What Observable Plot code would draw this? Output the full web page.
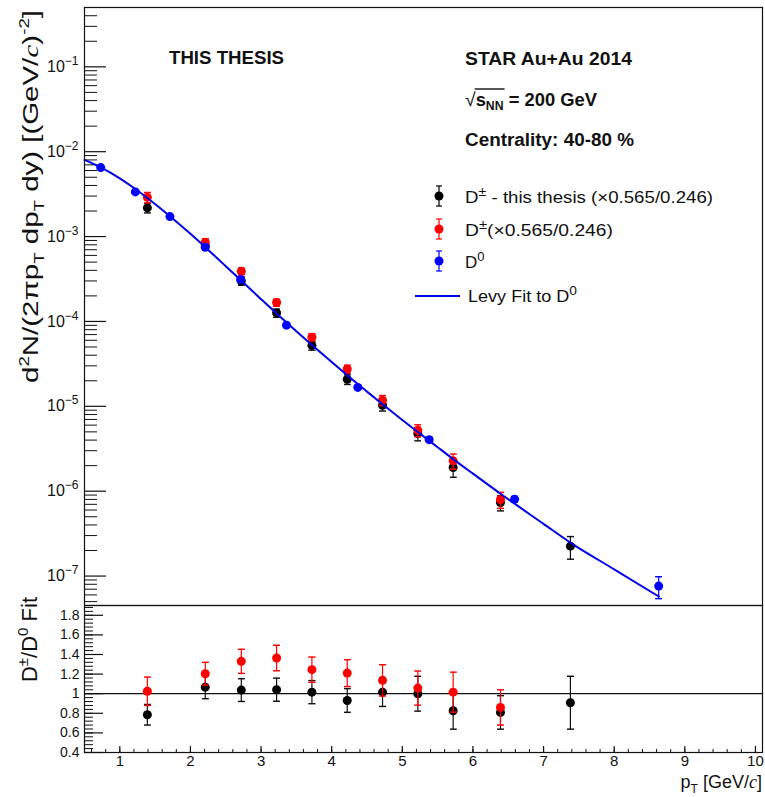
<!DOCTYPE html>
<html><head><meta charset="utf-8">
<script src="https://cdn.jsdelivr.net/npm/d3@7"></script>
<script src="https://cdn.jsdelivr.net/npm/@observablehq/plot@0.6"></script>
<style>
body{margin:0;background:#fff;}
#wrap{position:relative;width:765px;height:797px;font-family:"Liberation Sans",Arial,sans-serif;overflow:hidden;background:#fff;}
#wrap svg{position:absolute;left:0;}
</style></head><body><div id="wrap"></div>
<script>
// ---------------- data ----------------
// D± this thesis (black), spectrum
const ptBlack  = [1.39, 2.21, 2.72, 3.22, 3.72, 4.22, 4.72, 5.22, 5.72, 6.39, 7.38];
const yBlack   = [2.18e-3, 7.8e-4, 3.0e-4, 1.26e-4, 5.22e-5, 2.08e-5, 1.03e-5, 4.77e-6, 1.90e-6, 7.36e-7, 2.25e-7];
const eBlack   = [0.28e-3, 0.86e-4, 0.33e-4, 0.14e-4, 0.63e-5, 0.27e-5, 0.15e-5, 0.85e-6, 0.44e-6, 1.5e-7, 0.67e-7];
// D± published (red), spectrum
const ptRed    = [1.39, 2.21, 2.72, 3.22, 3.72, 4.22, 4.72, 5.22, 5.72, 6.39];
const yRed     = [2.90e-3, 8.57e-4, 3.91e-4, 1.67e-4, 6.53e-5, 2.75e-5, 1.18e-5, 5.22e-6, 2.28e-6, 7.98e-7];
const eRed     = [0.41e-3, 0.86e-4, 0.36e-4, 0.16e-4, 0.65e-5, 0.30e-5, 0.16e-5, 0.84e-6, 0.46e-6, 1.7e-7];
// D0 (blue), spectrum
const ptBlue   = [0.73, 1.22, 1.71, 2.21, 2.71, 3.36, 4.37, 5.38, 6.59, 8.63];
const yBlue    = [6.5e-3, 3.36e-3, 1.72e-3, 7.48e-4, 3.12e-4, 9.04e-5, 1.67e-5, 4.05e-6, 8.05e-7, 7.62e-8];
const eBlue    = [0.25e-3, 0.12e-3, 0.06e-3, 0.3e-4, 0.13e-4, 0.4e-5, 0.8e-6, 0.25e-6, 0.6e-7, 2.2e-8];
// Levy fit to D0
const ptFit    = [0.5, 0.73, 1.0, 1.22, 1.39, 1.71, 2.0, 2.21, 2.5, 2.72, 3.0, 3.22, 3.5, 3.72, 4.0, 4.22, 4.5, 4.72, 5.0, 5.22, 5.5, 5.72, 6.0, 6.39, 7.0, 7.38, 8.0, 8.63];
const yFit     = [8.0e-3, 6.54e-3, 4.86e-3, 3.64e-3, 2.85e-3, 1.74e-3, 1.077e-3, 7.49e-4, 4.48e-4, 3.02e-4, 1.83e-4, 1.24e-4, 7.66e-5, 5.28e-5, 3.32e-5, 2.32e-5, 1.49e-5, 1.057e-5, 6.90e-6, 4.98e-6, 3.30e-6, 2.39e-6, 1.61e-6, 9.33e-7, 4.12e-7, 2.48e-7, 1.2e-7, 5.75e-8];
// Ratio to D0 fit (bottom panel)
const rBlack   = [0.785, 1.067, 1.037, 1.041, 1.016, 0.931, 1.016, 1.0, 0.826, 0.809, 0.908];
const reBlack  = [0.105, 0.118, 0.116, 0.118, 0.118, 0.121, 0.146, 0.178, 0.188, 0.171, 0.27];
const rRed     = [1.025, 1.204, 1.33, 1.364, 1.245, 1.21, 1.136, 1.057, 1.016, 0.86];
const reRed    = [0.145, 0.116, 0.123, 0.13, 0.129, 0.137, 0.16, 0.174, 0.204, 0.18];
// tick values
const yMajorTop = [1e-7, 1e-6, 1e-5, 1e-4, 1e-3, 1e-2, 1e-1];
const yMinorTop = [];
for (let e = -8; e <= -1; e++) for (let k = 2; k <= 9; k++) { const v = k * Math.pow(10, e); if (v >= 4.5e-8 && v <= 0.5) yMinorTop.push(v); }
const rMajor = [0.4, 0.6, 0.8, 1.0, 1.2, 1.4, 1.6, 1.8];
const rMinor = d3.range(0, 38).map(i => +(0.4 + i * 0.04).toFixed(2));
const xMajor = [1, 2, 3, 4, 5, 6, 7, 8, 9, 10];
const xMinor = d3.range(0, 48).map(i => +(0.6 + i * 0.2).toFixed(1));

// ---------------- tables ----------------
const mk = (xs, ys, es) => xs.map((x, i) => ({x, y: ys[i], lo: ys[i] - es[i], hi: ys[i] + es[i]}));
const blackTop = mk(ptBlack, yBlack, eBlack);
const redTop   = mk(ptRed, yRed, eRed);
const blueTop  = mk(ptBlue, yBlue, eBlue);
const fit      = ptFit.map((x, i) => ({x, y: yFit[i]}));
const blackR   = mk(ptBlack, rBlack, reBlack);
const redR     = mk(ptRed, rRed, reRed);

const W = 765, ML = 84, MR = 3, FW = W - ML - MR;
const INK = "#111";
const BLUE = "#0000ff", RED = "#ff0000", LINEBLUE = "#0000e6";
const font = "Liberation Sans, Arial, sans-serif";

const errs = (data, color) => Plot.link(data, {x1: "x", x2: "x", y1: "lo", y2: "hi", stroke: color, strokeWidth: 1.2, markerStart: "tick", markerEnd: "tick"});

// ---------------- top panel ----------------
const topH = 607;
const topPlot = Plot.plot({
  width: W, height: topH, marginLeft: ML, marginRight: MR, marginTop: 7, marginBottom: 2,
  x: {domain: [0.5, 10.1], axis: null},
  y: {type: "log", domain: [4.5e-8, 0.5], axis: null},
  style: {fontFamily: font, background: "transparent", color: INK},
  marks: [
    Plot.ruleY(yMinorTop, {stroke: INK, strokeWidth: 1, insetRight: FW - 13}),
    Plot.ruleY(yMajorTop, {stroke: INK, strokeWidth: 1.2, insetRight: FW - 22}),
    Plot.axisY(yMajorTop, {tickSize: 0, tickPadding: 6, fontSize: 16, label: null, tickFormat: d => "10^" + Math.round(Math.log10(d))}),
    errs(blackTop, INK),
    Plot.dot(blackTop, {x: "x", y: "y", r: 4.5, fill: "black"}),
    errs(redTop, RED),
    Plot.dot(redTop, {x: "x", y: "y", r: 4.5, fill: RED}),
    Plot.line(fit, {x: "x", y: "y", stroke: LINEBLUE, strokeWidth: 2, curve: "monotone-x"}),
    errs(blueTop, BLUE),
    Plot.dot(blueTop, {x: "x", y: "y", r: 4.5, fill: BLUE}),
    Plot.frame({stroke: INK, strokeWidth: 1.2})
  ]
});
topPlot.style.top = "0px";

// ---------------- bottom panel ----------------
const botH = 194, botFH = 147;
const botPlot = Plot.plot({
  width: W, height: botH, marginLeft: ML, marginRight: MR, marginTop: 2, marginBottom: botH - 2 - botFH,
  x: {domain: [0.5, 10.1], axis: null},
  y: {domain: [0.4, 1.9], axis: null},
  style: {fontFamily: font, background: "transparent", color: INK},
  marks: [
    Plot.ruleY(rMinor, {stroke: INK, strokeWidth: 1, insetRight: FW - 9}),
    Plot.ruleY(rMajor, {stroke: INK, strokeWidth: 1.2, insetRight: FW - 19}),
    Plot.ruleX(xMinor, {stroke: INK, strokeWidth: 1, insetTop: botFH - 3}),
    Plot.ruleX(xMajor, {stroke: INK, strokeWidth: 1.2, insetTop: botFH - 6}),
    Plot.axisY(rMajor, {tickSize: 0, tickPadding: 5, fontSize: 14, label: null, tickFormat: d => String(+d.toFixed(1))}),
    Plot.axisX(xMajor, {tickSize: 0, tickPadding: 3, fontSize: 15, label: null}),
    Plot.ruleY([1], {stroke: INK, strokeWidth: 1.2}),
    errs(blackR, INK),
    Plot.dot(blackR, {x: "x", y: "y", r: 4.5, fill: "black"}),
    errs(redR, RED),
    Plot.dot(redR, {x: "x", y: "y", r: 4.5, fill: RED}),
    Plot.frame({stroke: INK, strokeWidth: 1.2})
  ]
});
botPlot.style.top = (605 - 2) + "px";

const wrap = document.getElementById("wrap");
wrap.appendChild(topPlot);
wrap.appendChild(botPlot);

// superscript exponents on log tick labels
d3.select(topPlot).selectAll('g[aria-label="y-axis tick label"] text').each(function () {
  const t = d3.select(this);
  const s = t.text();
  if (!s.includes("^")) return;
  const e = s.split("^")[1].replace("-", "\u2212");
  t.text(null);
  t.append("tspan").text("10");
  t.append("tspan").attr("dy", -7).attr("font-size", 12).text(e);
});

// ---------------- overlay text (titles, labels, legend) ----------------
const ov = d3.select(wrap).append("svg")
  .attr("width", W).attr("height", 797)
  .style("top", "0px").style("pointer-events", "none")
  .attr("font-family", font).attr("fill", INK);

function rich(sel, parts) {
  let shift = 0;
  parts.forEach(p => {
    const ts = sel.append("tspan").text(p.t);
    const target = p.sup ? -p.sup : (p.sub ? p.sub : 0);
    if (target !== shift) { ts.attr("dy", target - shift); shift = target; }
    if (p.size) ts.attr("font-size", p.size);
    if (p.italic) ts.attr("font-style", "italic").attr("font-family", "Liberation Serif, serif");
    if (p.weight) ts.attr("font-weight", p.weight);
  });
  return sel;
}
const fitLen = (sel, len) => sel.attr("textLength", len).attr("lengthAdjust", "spacingAndGlyphs");

// annotations
fitLen(ov.append("text").attr("x", 169).attr("y", 64).attr("font-size", 18).attr("font-weight", "bold").text("THIS THESIS"), 115);
fitLen(ov.append("text").attr("x", 465).attr("y", 65).attr("font-size", 18).attr("font-weight", "bold").text("STAR Au+Au 2014"), 167);
const sq = ov.append("text").attr("x", 465).attr("y", 106).attr("font-size", 18).attr("font-weight", "bold");
sq.append("tspan").attr("font-weight", "normal").attr("font-size", 19).text("\u221A");
sq.append("tspan").text("s");
sq.append("tspan").attr("dy", 4).attr("font-size", 12).text("NN");
sq.append("tspan").attr("dy", -4).text(" = 200 GeV");
fitLen(sq, 132);
fitLen(ov.append("text").attr("x", 465).attr("y", 146).attr("font-size", 18).attr("font-weight", "bold").text("Centrality: 40-80 %"), 169);
// overline of the square root
{
  const n = sq.node();
  const x0 = n.getStartPositionOfChar(1).x;
  const x1 = n.getEndPositionOfChar(3).x;
  ov.append("line").attr("x1", x0 - 1).attr("x2", x1 + 1).attr("y1", 89).attr("y2", 89).attr("stroke", INK).attr("stroke-width", 1.4);
}

// y label (top panel)
fitLen(rich(ov.append("text").attr("font-size", 22).attr("text-anchor", "end")
  .attr("transform", "translate(38,10) rotate(-90)"),
  [{t: "d"}, {t: "2", sup: 9, size: 14}, {t: "N/(2\u03C0p"}, {t: "T", sub: 6, size: 14}, {t: " dp"}, {t: "T", sub: 6, size: 14},
   {t: " dy) [(GeV/"}, {t: "c", italic: true}, {t: ")"}, {t: "-2", sup: 9, size: 14}, {t: "]"}]), 373);

// y label (bottom panel)
rich(ov.append("text").attr("font-size", 22).attr("text-anchor", "end")
  .attr("transform", "translate(37,597) rotate(-90)"),
  [{t: "D"}, {t: "\u00B1", sup: 9, size: 15}, {t: "/D"}, {t: "0", sup: 9, size: 15}, {t: " Fit"}]);

// x label
rich(ov.append("text").attr("font-size", 18).attr("text-anchor", "end").attr("x", 762).attr("y", 788),
  [{t: "p"}, {t: "T", sub: 5, size: 12}, {t: " [GeV/"}, {t: "c", italic: true}, {t: "]"}]);

// legend
const lg = ov.append("g");
const legRows = [
  {y: 196, color: "#000", len: 248, parts: [{t: "D"}, {t: "\u00B1", sup: 7, size: 13}, {t: " - this thesis (\u00D70.565/0.246)"}]},
  {y: 229, color: RED, len: 148, parts: [{t: "D"}, {t: "\u00B1", sup: 7, size: 13}, {t: "(\u00D70.565/0.246)"}]},
  {y: 261, color: BLUE, len: null, parts: [{t: "D"}, {t: "0", sup: 7, size: 13}]}
];
legRows.forEach(r => {
  lg.append("line").attr("x1", 439).attr("x2", 439).attr("y1", r.y - 10).attr("y2", r.y + 10).attr("stroke", r.color).attr("stroke-width", 1.2);
  lg.append("line").attr("x1", 436).attr("x2", 442).attr("y1", r.y - 10).attr("y2", r.y - 10).attr("stroke", r.color).attr("stroke-width", 1.2);
  lg.append("line").attr("x1", 436).attr("x2", 442).attr("y1", r.y + 10).attr("y2", r.y + 10).attr("stroke", r.color).attr("stroke-width", 1.2);
  lg.append("circle").attr("cx", 439).attr("cy", r.y).attr("r", 4.5).attr("fill", r.color);
  const t = rich(lg.append("text").attr("x", 465).attr("y", r.y + 7).attr("font-size", 17), r.parts);
  if (r.len) fitLen(t, r.len);
});
lg.append("line").attr("x1", 415).attr("x2", 460).attr("y1", 296).attr("y2", 296).attr("stroke", LINEBLUE).attr("stroke-width", 2);
fitLen(rich(lg.append("text").attr("x", 468).attr("y", 302).attr("font-size", 17), [{t: "Levy Fit to D"}, {t: "0", sup: 7, size: 13}]), 109);
</script>
</body></html>
